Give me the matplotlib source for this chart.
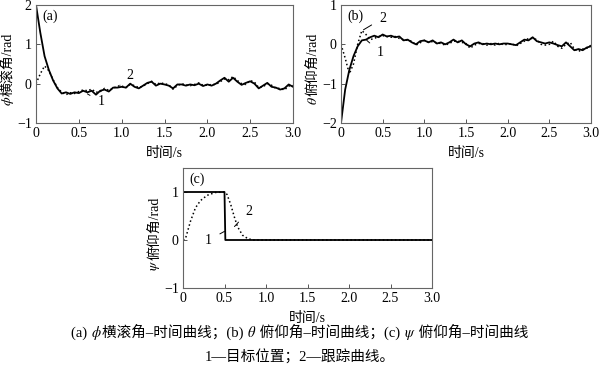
import numpy as np
import matplotlib
matplotlib.use("Agg")
import matplotlib.pyplot as plt
from matplotlib.offsetbox import TextArea,HPacker,AnchoredOffsetbox



FAMILY=["Liberation Serif","DejaVu Serif","Noto Sans CJK SC"]
plt.rcParams["font.family"]=FAMILY
plt.rcParams["mathtext.fontset"]="stix"
plt.rcParams["font.size"]=10



# time base for (a) and (b), 0.05 s step
T=[i*0.05 for i in range(61)]

# (a) roll angle
A_TARGET=[2.0,1.3,0.7,0.35,0.08,-0.12,-0.25,-0.22,-0.26,-0.22,
	-0.24,-0.18,-0.22,-0.18,-0.28,-0.18,-0.15,-0.2,-0.1,-0.1,
	-0.08,-0.1,0.0,-0.08,-0.12,-0.05,0.02,0.05,-0.05,0.0,
	-0.02,-0.05,-0.12,-0.02,-0.02,-0.05,-0.02,-0.04,0.0,-0.06,
	-0.02,-0.05,0.0,0.08,0.15,0.05,0.15,0.05,-0.03,0.02,
	0.06,0.0,-0.12,-0.05,0.02,-0.08,-0.1,-0.15,-0.12,-0.02,
	-0.08]
A_TRACK=[0.0,0.25,0.45,0.33,0.1,-0.1,-0.22,-0.28,-0.23,-0.25,
	-0.2,-0.16,-0.18,-0.14,-0.22,-0.2,-0.12,-0.17,-0.12,-0.06,
	-0.06,-0.1,-0.02,-0.05,-0.1,-0.06,0.0,0.06,-0.02,0.02,
	0.0,-0.03,-0.14,-0.05,0.0,-0.03,-0.05,-0.02,0.02,-0.04,
	-0.04,-0.02,-0.02,0.05,0.12,0.1,0.18,0.08,0.0,-0.02,
	0.08,0.04,-0.1,-0.08,0.0,-0.04,-0.12,-0.12,-0.16,-0.06,
	-0.05]

# (b) pitch angle
B_TARGET=[-2.0,-1.15,-0.65,-0.3,-0.05,0.1,0.12,0.18,0.22,0.18,
	0.25,0.2,0.22,0.18,0.2,0.1,0.12,0.05,0.0,0.08,
	0.1,0.05,0.1,0.02,0.05,0.0,0.05,0.12,0.05,0.1,
	0.0,-0.05,0.02,0.05,0.0,0.02,0.0,0.02,0.0,0.02,
	0.02,0.0,-0.02,0.05,0.12,0.1,0.18,0.08,0.05,0.02,
	0.05,0.02,-0.02,-0.05,0.05,-0.05,-0.15,-0.12,-0.15,-0.08,
	-0.05]
B_TRACK=[0.0,-0.35,-0.75,-0.5,0.0,0.35,0.25,0.12,0.15,0.2,
	0.22,0.2,0.18,0.2,0.15,0.12,0.1,0.08,-0.02,0.04,
	0.1,0.06,0.07,0.04,0.02,-0.02,0.02,0.08,0.08,0.05,
	0.02,-0.1,-0.02,0.02,0.02,-0.02,0.02,-0.02,0.03,-0.01,
	0.0,0.02,-0.04,0.02,0.08,0.15,0.15,0.12,0.0,-0.02,
	0.0,0.08,-0.05,-0.1,0.0,0.05,-0.12,-0.18,-0.12,-0.1,
	-0.02]

# (c) yaw angle
C_T_TARGET=[0.0,0.5,0.51,3.0]
C_TARGET=[1.0,1.0,0.0,0.0]
C_T_TRACK=[0.0,0.03,0.09,0.15,0.21,0.29,0.39,0.5,0.53,0.575,0.615,0.656,0.717,0.78,0.84,3.0]
C_TRACK=[0.0,0.03,0.39,0.67,0.82,0.93,0.99,1.0,0.95,0.74,0.5,0.28,0.1,0.03,0.0,0.0]

XTICKS=[0,0.5,1.0,1.5,2.0,2.5,3.0]
XTICKLABELS=["0","0.5","1.0","1.5","2.0","2.5","3.0"]



def _ylabel(ax,greek,rest):
	t=ax.annotate(rest,xy=(-0.11,0.5),xycoords="axes fraction",xytext=(0,0),textcoords="offset points",
		rotation=90,ha="center",va="center",fontsize=10)
	ax.annotate(greek,xy=(0.5,0),xycoords=t,rotation=90,ha="center",va="top",fontsize=10)



def _style(ax,ylim,yticks,greek,rest,tag):
	ax.set_xlim(0,3)
	ax.set_ylim(*ylim)
	ax.set_xticks(XTICKS)
	ax.set_xticklabels(XTICKLABELS)
	ax.set_yticks(yticks)
	ax.set_yticklabels([("\u2212" if v<0 else "")+str(abs(v)) for v in yticks])
	ax.tick_params(direction="in",length=3,width=0.7,color="#555555",pad=3,labelsize=10)
	for s in ax.spines.values():
		s.set_color("#666666")
		s.set_linewidth(0.8)
	ax.set_xlabel("时间/s",fontsize=10,labelpad=5)
	_ylabel(ax,greek,rest)
	ax.text(0.025,0.96,tag,transform=ax.transAxes,ha="left",va="top",fontsize=10)



def _note(ax,txt,xy,xytext):
	ax.annotate(txt,xy=xy,xytext=xytext,fontsize=10,ha="center",va="center",
		arrowprops=dict(arrowstyle="-",color="black",lw=0.7,shrinkA=4,shrinkB=0))



def _caption_line(fig,parts,y):
	# mathtext pieces kept separate so CJK falls back properly
	boxes=[TextArea(p,textprops=dict(fontsize=10.5,family=FAMILY)) for p in parts]
	pack=HPacker(children=boxes,align="baseline",pad=0,sep=0)
	box=AnchoredOffsetbox(loc="center",child=pack,frameon=False,pad=0,borderpad=0,
		bbox_to_anchor=(0.5,y),bbox_transform=fig.transFigure)
	fig.add_artist(box)



fig=plt.figure(figsize=(6,3.72),dpi=100)
ax1=fig.add_axes([36/600,1-123/372,257/600,118/372])
ax2=fig.add_axes([341/600,1-123/372,250/600,118/372])
ax3=fig.add_axes([183/600,1-288/372,249/600,120/372])

ax1.plot(T,A_TARGET,"-",color="black",lw=1.3)
ax1.plot(T,A_TRACK,":",color="black",lw=1.1)
_style(ax1,(-1,2),[-1,0,1,2],"$\\phi$","横滚角/rad","(a)")
_note(ax1,"2",(0.98,-0.04),(1.1,0.22))
_note(ax1,"1",(0.6,-0.26),(0.76,-0.46))

ax2.plot(T,B_TARGET,"-",color="black",lw=1.3)
ax2.plot(T,B_TRACK,":",color="black",lw=1.1)
_style(ax2,(-2,1),[-2,-1,0,1],"$\\theta$","俯仰角/rad","(b)")
_note(ax2,"2",(0.27,0.37),(0.5,0.66))
_note(ax2,"1",(0.31,0.1),(0.47,-0.2))

ax3.plot(C_T_TARGET,C_TARGET,"-",color="black",lw=1.3)
ax3.plot(C_T_TRACK,C_TRACK,":",color="black",lw=1.1)
_style(ax3,(-1,1.5),[-1,0,1],"$\\psi$","俯仰角/rad","(c)")
_note(ax3,"2",(0.62,0.28),(0.79,0.6))
_note(ax3,"1",(0.5,0.18),(0.31,0.0))

_caption_line(fig,["(a) ","$\\phi$","横滚角\u2013时间曲线；(b) ","$\\theta$"," 俯仰角\u2013时间曲线；(c) ","$\\psi$"," 俯仰角\u2013时间曲线"],1-333/372)
_caption_line(fig,["1\u2014目标位置；2\u2014跟踪曲线。"],1-357/372)

fig.savefig("out.png",dpi=100)
